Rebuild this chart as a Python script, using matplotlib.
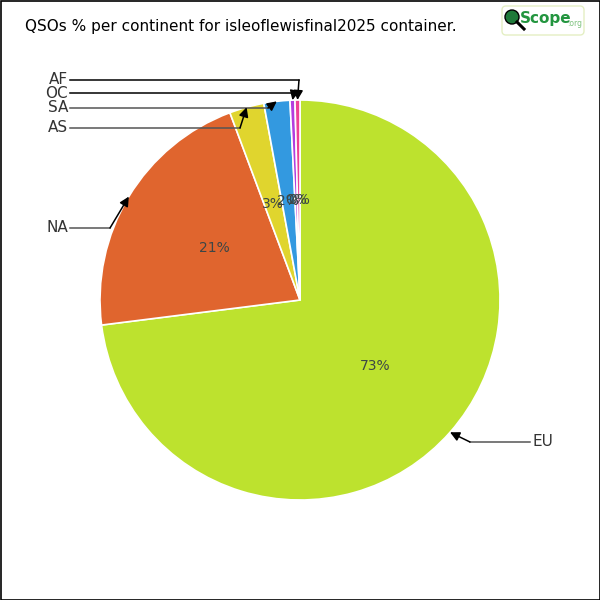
"""QSOs % per continent pie, QScope style."""

import numpy as np
import matplotlib
matplotlib.use('Agg')
import matplotlib.pyplot as plt
from matplotlib.patches import FancyBboxPatch, Circle

TITLE = 'QSOs % per continent for isleoflewisfinal2025 container.'
continents = ['EU', 'NA', 'AS', 'SA', 'OC', 'AF']
shares = [73.0, 21.3, 2.8, 2.1, 0.4, 0.4]
colors = ['#bde22e', '#e0652e', '#e0d52e', '#3399e0', '#b23de0', '#ef3f95']

# label text anchor, elbow point (pixel layout)
label_layout = {
    'EU': ((532, 442), (470, 442)),
    'NA': ((68, 228), (110, 228)),
    'AS': ((68, 128), (240, 128)),
    'SA': ((68, 108), (268, 108)),
    'OC': ((68, 93), (294, 93)),
    'AF': ((68, 80), (299, 80)),
}

CX, CY, R = 300, 300, 200

fig = plt.figure(figsize=(6, 6), dpi=100)
fig.patch.set_facecolor('white')
ax = fig.add_axes([0, 0, 1, 1])

# y axis runs downward (pixel layout), so data angles turn clockwise on screen
wedges, texts, autotexts = ax.pie(
    shares, colors=colors, startangle=-90, counterclock=True,
    center=(CX, CY), radius=R, autopct='%.0f%%', pctdistance=0.5,
    wedgeprops=dict(edgecolor='white', linewidth=1.2),
    textprops=dict(color='#3c4646', fontsize=10), frame=True)
ax.set_xlim(0, 600)
ax.set_ylim(600, 0)
ax.set_aspect('equal')
ax.axis('off')

# outer frame
ax.add_patch(plt.Rectangle((0.5, 0.5), 599, 599, fill=False, ec='black', lw=1.2))

for name, w in zip(continents, wedges):
    mid = np.deg2rad((w.theta1 + w.theta2) / 2)
    tip = (CX + R * np.cos(mid), CY + R * np.sin(mid))
    (tx, ty), (ex, ey) = label_layout[name]
    ha = 'left' if tx > CX else 'right'
    ax.text(tx, ty, name, ha=ha, va='center', fontsize=11, color='#333333',
            family='DejaVu Sans')
    start_x = tx - 2 if ha == 'left' else tx + 2
    lc = 'black' if name in ('AF', 'OC') else '#555555'
    ax.plot([start_x, ex], [ty, ey], color=lc, lw=1.1)
    ax.annotate('', xy=tip, xytext=(ex, ey),
                arrowprops=dict(arrowstyle='-|>', color='black', lw=1.1,
                                mutation_scale=14, shrinkA=0, shrinkB=0))

ax.text(25, 27, TITLE, ha='left', va='center', fontsize=11, color='black')

# logo
ax.add_patch(FancyBboxPatch((502, 6), 82, 29, boxstyle='round,pad=0,rounding_size=4',
                            fc='white', ec='#e4efc4', lw=1))
ax.add_patch(Circle((512, 17), 7, fc='#1f7a3a', ec='black', lw=1))
ax.plot([517, 524], [22, 29], color='black', lw=2.2)
ax.text(520, 18, 'Scope', ha='left', va='center', fontsize=11, fontweight='bold',
        color='#23953f', family='DejaVu Sans Condensed')
ax.text(567, 24, '.org', ha='left', va='center', fontsize=5.5, color='#7ec27e')

fig.savefig('out.png', dpi=100)
